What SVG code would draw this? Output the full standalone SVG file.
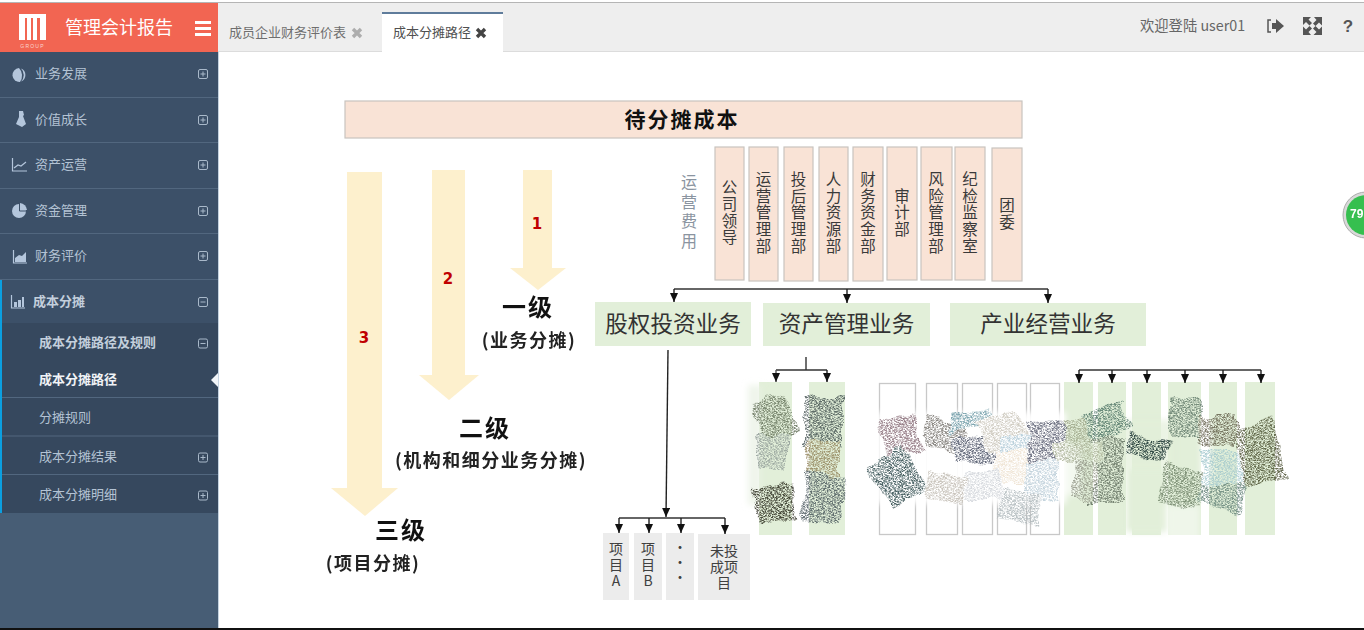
<svg xmlns="http://www.w3.org/2000/svg" width="1364" height="630" viewBox="0 0 1364 630">
<style>
text{font-family:"Noto Sans CJK SC","Liberation Sans",sans-serif}
.nav{font-size:13px;fill:#b4c3d4}
.navb{font-size:13px;fill:#c3cfdc;font-weight:700}
.sep{stroke:#52677f;stroke-width:1}
.pm{fill:none;stroke:#a9b9ca;stroke-width:1}
.ic{fill:#b4c6dc}
.icl{fill:none;stroke:#b4c6dc;stroke-width:1.2}
.dept{fill:#f9e3d6;stroke:#c9c4bf;stroke-width:1.2}
.v{font-size:15.5px;fill:#3a3a3a;writing-mode:vertical-rl;text-anchor:middle;letter-spacing:1.2px}
.biz{fill:#e2efd9}
.bizt{font-size:22.6px;fill:#333;text-anchor:middle}
.sub{fill:#e2efd9}
.wb{fill:#fff;stroke:#c8c8c8;stroke-width:1.3}
.gb{fill:#ececec}
.gt{font-size:14px;fill:#404040;text-anchor:middle}
.gv{font-size:14px;fill:#404040;writing-mode:vertical-rl;text-orientation:upright;text-anchor:middle;letter-spacing:2px}
.lv{font-size:24px;font-weight:700;fill:#111;text-anchor:middle;letter-spacing:2px}
.lvs{font-size:18px;font-weight:700;fill:#222;text-anchor:middle;letter-spacing:1.5px}
.num{font-size:15px;font-weight:700;fill:#c00000;text-anchor:middle;font-family:"DejaVu Sans",sans-serif}
.ar{fill:#fdf0cd}
.ln{fill:none;stroke:#333;stroke-width:1.4}
.hd{fill:none;stroke:#222;stroke-width:1.4;marker-end:url(#tri)}
</style>
<defs>
<marker id="tri" markerUnits="userSpaceOnUse" markerWidth="10" markerHeight="8" refX="9" refY="4" orient="auto"><path d="M0 0L9 4L0 8Z" fill="#111"/></marker>
<filter id="grain" x="-10%" y="-10%" width="120%" height="120%">
<feTurbulence type="fractalNoise" baseFrequency="0.05" numOctaves="2" seed="9" result="w"/>
<feDisplacementMap in="SourceGraphic" in2="w" scale="14" xChannelSelector="R" yChannelSelector="G" result="d"/>
<feTurbulence type="fractalNoise" baseFrequency="0.55 1.3" numOctaves="3" seed="4" result="n"/>
<feColorMatrix in="n" type="matrix" values="0 0 0 0 0 0 0 0 0 0 0 0 0 0 0 3 0 0 0 -1.05" result="a"/>
<feComposite in="d" in2="a" operator="in"/>
<feGaussianBlur stdDeviation="0.6"/>
</filter>
<filter id="soft" x="-20%" y="-20%" width="140%" height="140%"><feGaussianBlur stdDeviation="3"/></filter>
</defs>

<rect width="1364" height="630" fill="#fff"/>

<g id="topbar">
<rect x="218" y="3" width="1146" height="48" fill="#eeeeee"/>
<rect x="0" y="2" width="1364" height="1" fill="#b5b5b5"/>
<rect x="218" y="51" width="1146" height="1" fill="#dcdcdc"/>
<text x="229" y="37" font-size="13" fill="#6e6e6e">成员企业财务评价表</text>
<path d="M353 29l8 8M361 29l-8 8" stroke="#adadad" stroke-width="3.400" fill="none"/>
<rect x="382" y="12" width="121" height="40" fill="#fff"/>
<rect x="382" y="12" width="121" height="2" fill="#5f7c9b"/>
<text x="393" y="37" font-size="13" fill="#505050">成本分摊路径</text>
<path d="M477 29l8 8M485 29l-8 8" stroke="#444" stroke-width="3.400" fill="none"/>
<text x="1140" y="31" font-size="14.300" fill="#666">欢迎登陆 user01</text>
<path d="M1271 20h-3v12h3" fill="none" stroke="#555" stroke-width="1.500"/>
<path d="M1272 23h4v-4l8 7-8 7v-4h-4z" fill="#555"/>
<path d="M1303 17h8l-2.500 2.500 3.500 3.500-2.500 2.500-3.500-3.500-3 3zM1322 17v8.500l-3-3-3.500 3.500-2.500-2.500 3.500-3.500-2.500-3zM1303 35v-8.500l3 3 3.500-3.500 2.500 2.500-3.500 3.500 2.500 3zM1322 35h-8.500l3-3-3.500-3.500 2.500-2.500 3.500 3.500 3-3z" fill="#555"/>
<text x="1348" y="32" font-size="17" font-weight="700" fill="#555" text-anchor="middle" style="font-family:'Liberation Sans',sans-serif">?</text>
</g>

<g id="sidebar">
<rect x="0" y="52" width="218" height="576" fill="#3c5068"/>
<rect x="0" y="3" width="218" height="49" fill="#f26552"/>
<rect x="0" y="323" width="218" height="190" fill="#36485e"/>
<rect x="0" y="513" width="218" height="115" fill="#475d75"/>
<rect x="0" y="279" width="2" height="234" fill="#0b9fe0"/>
<rect x="218" y="52" width="1" height="576" fill="#c5d3e0"/>
<g id="logo">
<path d="M19 14h27v26h-6V18h-3v22h-4V18h-2v22h-4V18h-2v22h-6z" fill="#fff"/>
<text x="32.500" y="48" font-size="5" fill="#fbd6cf" text-anchor="middle" letter-spacing="1.200" style="font-family:'Liberation Sans',sans-serif">GROUP</text>
</g>
<text x="65" y="34" font-size="18" fill="#fff">管理会计报告</text>
<path d="M195 21h16v3h-16zM195 27h16v3h-16zM195 33h16v3h-16z" fill="#fff"/>
<g class="sep"><path d="M0 97.500h218M0 142.500h218M0 188.500h218M0 233.500h218M0 279.500h218M2 397.500h216M2 436h216M2 474.500h216"/></g>
<text class="nav" x="35" y="77.500">业务发展</text>
<text class="nav" x="35" y="123.500">价值成长</text>
<text class="nav" x="35" y="168.500">资产运营</text>
<text class="nav" x="35" y="214.500">资金管理</text>
<text class="nav" x="35" y="259.500">财务评价</text>
<text class="navb" x="33" y="305.500">成本分摊</text>
<text class="navb" x="39" y="347">成本分摊路径及规则</text>
<text x="39" y="384" font-size="13" font-weight="700" fill="#f0f3f6">成本分摊路径</text>
<text class="nav" x="39" y="422">分摊规则</text>
<text class="nav" x="39" y="461">成本分摊结果</text>
<text class="nav" x="39" y="499">成本分摊明细</text>
<path d="M218 373v14l-7-7z" fill="#f2f5f8"/>
<path d="M19 68a7 7 0 1 0 1 14a11 11 0 0 0-1-14z" class="ic"/><path d="M21 68.500a7 7 0 0 1 0 13a9 9 0 0 0 0-13z" class="ic"/>
<path d="M19 111l4 0 1 4-1 1 3 8-4 3-6-3 3-7z" class="ic"/>
<path d="M12.500 158v13h14.500" class="icl"/><path d="M14 168l4-3 3 1 5-4" class="icl"/>
<circle cx="19" cy="211" r="7" class="ic"/><path d="M20 203a7.500 7.500 0 0 1 7 7h-7z" class="ic"/><path d="M19.500 204v7h7" fill="none" stroke="#3c5068"/>
<path d="M13.500 250v13h13.500" class="icl"/><path d="M15 262v-4l4-3 3 1 4-4v10z" class="ic"/>
<path d="M11.500 295v13h13.500" class="icl"/><path d="M14 307v-5h3v5zM18 307v-7h3v7zM22 307v-10h2v10z" class="ic"/>
<g class="pm">
<rect x="198.500" y="69.500" width="9" height="9" rx="1.500"/><path d="M200.500 74h5M203 71.500v5"/>
<rect x="198.500" y="115.500" width="9" height="9" rx="1.500"/><path d="M200.500 120h5M203 117.500v5"/>
<rect x="198.500" y="160.500" width="9" height="9" rx="1.500"/><path d="M200.500 165h5M203 162.500v5"/>
<rect x="198.500" y="206.500" width="9" height="9" rx="1.500"/><path d="M200.500 211h5M203 208.500v5"/>
<rect x="198.500" y="251.500" width="9" height="9" rx="1.500"/><path d="M200.500 256h5M203 253.500v5"/>
<rect x="198.500" y="297.500" width="9" height="9" rx="1.500"/><path d="M200.500 302h5"/>
<rect x="198.500" y="339" width="9" height="9" rx="1.500"/><path d="M200.500 343.500h5"/>
<rect x="198.500" y="453" width="9" height="9" rx="1.500"/><path d="M200.500 457.500h5M203 455v5"/>
<rect x="198.500" y="491" width="9" height="9" rx="1.500"/><path d="M200.500 495.500h5M203 493v5"/>
</g>
</g>

<g id="level-arrows">
<path class="ar" d="M347 172h35v316h16l-33 28-34-28h16z"/>
<path class="ar" d="M432 170h33v205h14l-30 25-30-25h13z"/>
<path class="ar" d="M523 170h29v98h14l-28 22-28-22h13z"/>
<text class="num" x="364" y="343">3</text>
<text class="num" x="448" y="284">2</text>
<text class="num" x="537" y="229">1</text>
</g>

<g id="node-root"><rect class="dept" x="345" y="101" width="677" height="37"/><text x="682" y="127" font-size="21" font-weight="700" fill="#111" text-anchor="middle" letter-spacing="2">待分摊成本</text></g>

<text id="label-opex" x="689" y="174" style="writing-mode:vertical-rl;letter-spacing:3.500px" font-size="16" fill="#8a94a0">运营费用</text>

<g id="node-d1"><rect class="dept" x="715" y="147" width="29" height="133"/><text class="v" x="729.500" y="213">公司领导</text></g>
<g id="node-d2"><rect class="dept" x="749" y="147" width="29" height="134"/><text class="v" x="763.500" y="213">运营管理部</text></g>
<g id="node-d3"><rect class="dept" x="784" y="147" width="29" height="134"/><text class="v" x="798.500" y="213">投后管理部</text></g>
<g id="node-d4"><rect class="dept" x="819" y="147" width="29" height="134"/><text class="v" x="833.500" y="213">人力资源部</text></g>
<g id="node-d5"><rect class="dept" x="853" y="147" width="30" height="134"/><text class="v" x="868" y="213">财务资金部</text></g>
<g id="node-d6"><rect class="dept" x="887" y="147" width="30" height="133"/><text class="v" x="902" y="213">审计部</text></g>
<g id="node-d7"><rect class="dept" x="921" y="147" width="31" height="133"/><text class="v" x="936" y="213">风险管理部</text></g>
<g id="node-d8"><rect class="dept" x="955" y="147" width="30" height="133"/><text class="v" x="970" y="213">纪检监察室</text></g>
<g id="node-d9"><rect class="dept" x="992" y="148" width="30" height="133"/><text class="v" x="1007" y="214">团委</text></g>

<g id="node-equity"><rect class="biz" x="595" y="302" width="156" height="44"/><text class="bizt" x="673" y="332">股权投资业务</text></g>
<g id="node-asset"><rect class="biz" x="763" y="303" width="167" height="43"/><text class="bizt" x="846.500" y="332">资产管理业务</text></g>
<g id="node-industry"><rect class="biz" x="950" y="303" width="196" height="43"/><text class="bizt" x="1048" y="332">产业经营业务</text></g>

<g id="node-p1"><rect class="gb" x="603" y="533" width="26" height="67"/><text class="gv" x="616" y="566">项目A</text></g>
<g id="node-p2"><rect class="gb" x="634" y="533" width="28" height="67"/><text class="gv" x="648" y="566">项目B</text></g>
<g id="node-p3"><rect class="gb" x="666" y="533" width="28" height="67"/><text class="gv" x="680" y="562" style="letter-spacing:1px">···</text></g>
<g id="node-p4"><rect class="gb" x="698" y="534" width="52" height="66"/><text class="gt" x="724"><tspan x="724" y="556">未投</tspan><tspan x="724" y="572">成项</tspan><tspan x="724" y="588">目</tspan></text></g>

<g id="node-a1"><rect class="sub" x="759" y="382" width="33" height="153"/></g>
<g id="node-a2"><rect class="sub" x="809" y="382" width="36" height="153"/></g>
<g id="node-b1"><rect class="wb" x="879.500" y="383.500" width="36" height="151"/></g>
<g id="node-b2"><rect class="wb" x="926.500" y="383.500" width="31" height="151"/></g>
<g id="node-b3"><rect class="wb" x="962.500" y="383.500" width="30" height="151"/></g>
<g id="node-b4"><rect class="wb" x="997.500" y="383.500" width="29" height="151"/></g>
<g id="node-b5"><rect class="wb" x="1030.500" y="383.500" width="29" height="151"/></g>
<g id="node-c1"><rect class="sub" x="1064" y="382" width="29" height="153"/></g>
<g id="node-c2"><rect class="sub" x="1098" y="382" width="28" height="153"/></g>
<g id="node-c3"><rect class="sub" x="1132" y="382" width="29" height="153"/></g>
<g id="node-c4"><rect class="sub" x="1168" y="382" width="33" height="153"/></g>
<g id="node-c5"><rect class="sub" x="1209" y="382" width="28" height="153"/></g>
<g id="node-c6"><rect class="sub" x="1245" y="382" width="30" height="153"/></g>

<g id="smears">
<g filter="url(#soft)" fill="#fff">
<rect x="876" y="412" width="190" height="92" opacity=".92"/>
<rect x="797" y="425" width="10" height="70"/>
<rect x="1126" y="470" width="42" height="62" fill="#e2efd9"/>
<rect x="1093" y="420" width="80" height="50" fill="#e2efd9" opacity=".7"/>
<rect x="1165" y="505" width="35" height="38" opacity=".45"/>
<rect x="1201" y="420" width="10" height="60" opacity=".8"/>
<rect x="748" y="385" width="14" height="120" fill="#e8f1e2" opacity=".7"/>
<rect x="1060" y="445" width="20" height="50" fill="#fff" opacity=".6"/>
</g>
<g filter="url(#grain)" opacity=".78">
<rect x="882" y="416" width="36" height="38" transform="rotate(-10 900 435)" fill="#7d5f6a"/>
<rect x="878" y="452" width="40" height="50" transform="rotate(-30 898 477)" fill="#1f3a3e"/>
<rect x="926" y="420" width="38" height="30" transform="rotate(10 945 435)" fill="#6b6660"/>
<rect x="950" y="410" width="40" height="20" transform="rotate(-5 970 420)" fill="#5c8e9b"/>
<rect x="955" y="438" width="44" height="24" transform="rotate(3 977 450)" fill="#3a4258"/>
<rect x="982" y="414" width="42" height="34" transform="rotate(-20 1003 432)" fill="#c4bfb2"/>
<rect x="996" y="450" width="34" height="34" fill="#ecdfcc"/>
<rect x="1000" y="434" width="38" height="18" fill="#a8c4d2"/>
<rect x="1028" y="422" width="38" height="38" transform="rotate(-5 1047 441)" fill="#4a4e62"/>
<rect x="1026" y="460" width="32" height="40" fill="#b4c8d4"/>
<rect x="1000" y="490" width="40" height="32" transform="rotate(10 1020 507)" fill="#a8b2b6"/>
<rect x="964" y="470" width="38" height="30" fill="#ccd0d6"/>
<rect x="926" y="474" width="40" height="28" transform="rotate(10 946 488)" fill="#bcb6ac"/>
<rect x="1064" y="418" width="28" height="32" fill="#969f80"/>
<rect x="1086" y="408" width="42" height="30" transform="rotate(-20 1107 423)" fill="#426a5c"/>
<rect x="1090" y="438" width="34" height="66" fill="#586656"/>
<rect x="1054" y="443" width="50" height="18" fill="#a4ac90"/>
<rect x="1072" y="460" width="24" height="40" fill="#8c9080"/>
<rect x="1127" y="438" width="40" height="20" transform="rotate(10 1147 448)" fill="#001a1c"/>
<rect x="1168" y="398" width="34" height="40" fill="#567060"/>
<rect x="1198" y="416" width="38" height="32" fill="#5a5440"/>
<rect x="1162" y="466" width="40" height="40" transform="rotate(15 1182 487)" fill="#667a5e"/>
<rect x="1202" y="476" width="44" height="34" transform="rotate(20 1223 493)" fill="#5a7a70"/>
<rect x="1202" y="452" width="44" height="30" fill="#9cc4ca"/>
<rect x="1240" y="422" width="40" height="62" transform="rotate(-12 1260 453)" fill="#3c4224"/>
<rect x="758" y="398" width="34" height="40" transform="rotate(-20 775 418)" fill="#5a6850"/>
<rect x="757" y="434" width="30" height="38" fill="#8a9692"/>
<rect x="756" y="484" width="38" height="38" transform="rotate(-8 775 503)" fill="#1f1f10"/>
<rect x="804" y="398" width="38" height="48" fill="#3a4a48"/>
<rect x="808" y="440" width="32" height="46" fill="#8a7a50"/>
<rect x="804" y="476" width="38" height="48" transform="rotate(5 823 500)" fill="#3a4a50"/>
</g>
</g>

<g id="connectors">
<path class="ln" d="M674 289H1048"/>
<path class="hd" d="M674 289V302"/><path class="hd" d="M847 289V303"/><path class="hd" d="M1048 289V303"/>
<path class="hd" d="M668 350L666 517"/>
<path class="ln" d="M619 518H725"/>
<path class="hd" d="M619 518V533"/><path class="hd" d="M649 518V533"/><path class="hd" d="M681 518V533"/><path class="hd" d="M725 518V534"/>
<path class="ln" d="M806 357V370M776 370H827"/>
<path class="hd" d="M776 370V382" style="stroke:#555"/><path class="hd" d="M827 370V382"/>
<path class="ln" d="M1079 370H1261"/>
<path class="hd" d="M1079 370V383"/><path class="hd" d="M1112 370V383"/><path class="hd" d="M1147 370V383"/><path class="hd" d="M1185 370V383"/><path class="hd" d="M1223 370V383"/><path class="hd" d="M1261 370V383"/>
</g>

<g id="level-labels">
<text class="lv" x="528" y="316">一级</text>
<text class="lvs" x="529" y="347">(业务分摊)</text>
<text class="lv" x="485" y="437">二级</text>
<text class="lvs" x="491" y="467">(机构和细分业务分摊)</text>
<text class="lv" x="401" y="539">三级</text>
<text class="lvs" x="373" y="570">(项目分摊)</text>
</g>

<g id="badge">
<circle cx="1366" cy="215" r="23" fill="#d9d9d9" stroke="#aaa"/>
<circle cx="1366" cy="215" r="20" fill="#36bf4f"/>
<text x="1350" y="218" font-size="12" font-weight="700" fill="#fff" style="font-family:'Liberation Sans',sans-serif">79</text>
</g>
<rect x="0" y="628" width="1364" height="2" fill="#111"/>
</svg>
